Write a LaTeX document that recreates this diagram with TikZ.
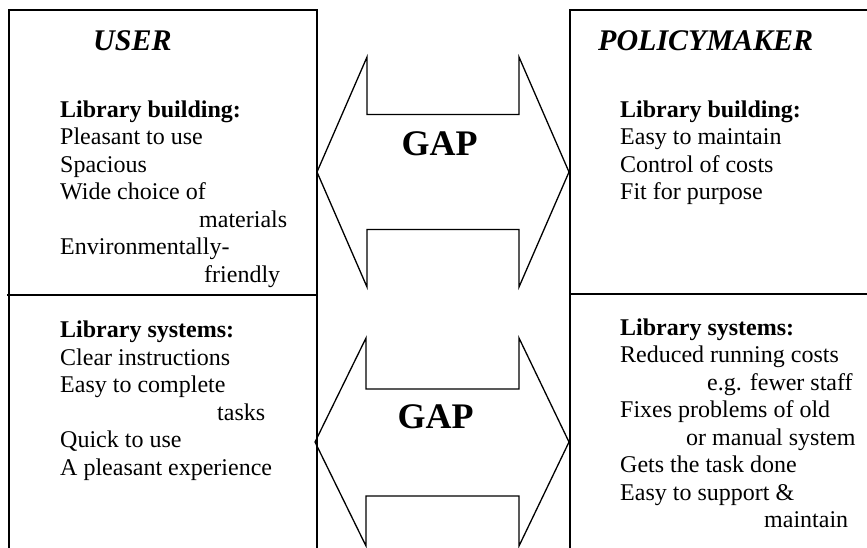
\documentclass[tikz,border=0pt]{standalone}
\usepackage{fontspec}
\setmainfont{Liberation Serif}
\begin{document}
\begin{tikzpicture}[x=1pt,y=-1pt]
\tikzset{
 frame/.style={line width=1.6pt},
 gaparrow/.style={draw, line width=1.3pt, fill=white, line join=miter},
 body/.style={anchor=base west, inner sep=0pt, font=\fontsize{24}{27.5}\selectfont},
 title/.style={anchor=base west, inner sep=0pt, font=\fontsize{30}{34}\selectfont\bfseries\itshape},
 gaplabel/.style={anchor=base, inner sep=0pt, font=\fontsize{36}{40}\selectfont\bfseries},
}
\useasboundingbox[fill=white] (0,0) rectangle (867,547);
% gap arrows
\draw[gaparrow] (317,172) -- (367,57) -- (367,114.5) -- (519,114.5) -- (519,57) -- (569,172) -- (519,287) -- (519,229.5) -- (367,229.5) -- (367,287) -- cycle;
\draw[gaparrow] (315,442) -- (366,338) -- (366,389) -- (519,389) -- (519,338) -- (569,442) -- (519,546) -- (519,496) -- (366,496) -- (366,546) -- cycle;
% frames
\draw[frame] (317,548) -- (317,10) -- (9,10) -- (9,548);
\draw[frame] (7,295) -- (317,295);
\draw[frame] (868,10) -- (570,10) -- (570,548);
\draw[frame] (570,294) -- (868,294);
% titles
\node[title] (user) at (93,50) {USER};
\node[title] (policy) at (598,50) {POLICYMAKER};
\node[gaplabel] (gap1) at (439.5,155) {GAP};
\node[gaplabel] (gap2) at (435.5,428) {GAP};
% texts
\node[body] (ub) at (60,117) {\begin{tabular}[t]{@{}l@{}}\textbf{Library building:}\\ Pleasant to use\\ Spacious\\ Wide choice of\\ \hspace*{139pt}materials\\ Environmentally-\\ \hspace*{144pt}friendly\end{tabular}};
\node[body] (us) at (60,337.5) {\begin{tabular}[t]{@{}l@{}}\textbf{Library systems:}\\ Clear instructions\\ Easy to complete\\ \hspace*{157pt}tasks\\ Quick to use\\ A pleasant experience\end{tabular}};
\node[body] (pb) at (620,117) {\begin{tabular}[t]{@{}l@{}}\textbf{Library building:}\\ Easy to maintain\\ Control of costs\\ Fit for purpose\end{tabular}};
\node[body] (ps) at (620,335) {\begin{tabular}[t]{@{}l@{}}\textbf{Library systems:}\\ Reduced running costs\\ \hspace*{87pt}e.g. fewer staff\\ Fixes problems of old\\ \hspace*{66pt}or manual system\\ Gets the task done\\ Easy to support \&\\ \hspace*{144pt}maintain\end{tabular}};
\end{tikzpicture}
\end{document}
